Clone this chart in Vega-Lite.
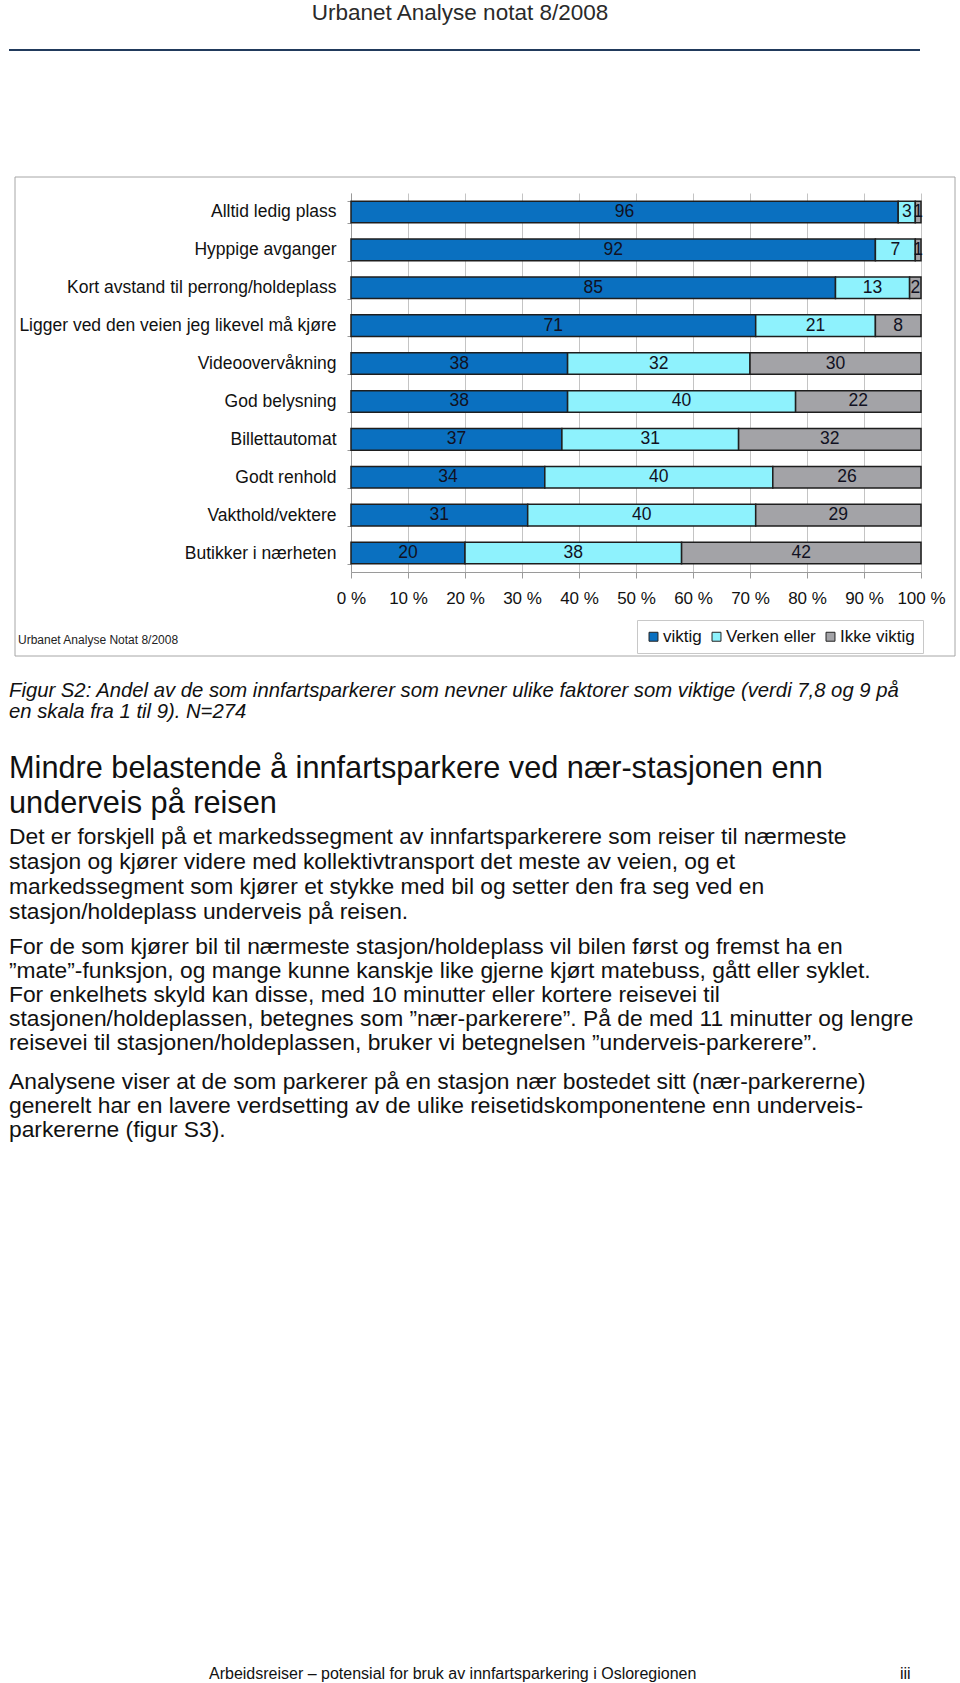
{
  "$schema": "https://vega.github.io/schema/vega-lite/v6.json",
  "padding": {"left": 9, "top": 1, "right": 0, "bottom": 0},
  "background": "white",
  "spacing": 0,
  "resolve": {"scale": {"color": "independent"}, "legend": {"color": "independent"}},
  "config": {
    "view": {"stroke": null},
    "font": "Liberation Sans",
    "title": {"fontWeight": "normal", "color": "#111111", "font": "Liberation Sans", "subtitleFont": "Liberation Sans", "subtitleColor": "#111111"}
  },
  "vconcat": [
    {
      "width": 570,
      "height": 2,
      "title": {"text": "Urbanet Analyse notat 8/2008", "orient": "top", "anchor": "middle", "frame": "group", "fontSize": 22.5, "color": "#2a2a2a", "offset": 25, "dx": -176},
      "data": {"values": [{"part": "header rule"}]},
      "mark": {"type": "rect", "color": "#213a5c"},
      "encoding": {
        "x": {"datum": 0, "type": "quantitative", "scale": {"domain": [0, 1], "range": [-342, 569]}, "axis": null},
        "x2": {"datum": 1}
      }
    },
    {
      "width": 1,
      "height": 125,
      "data": {"values": []},
      "mark": "point"
    },
    {
      "width": 570,
      "height": 379,
      "title": {"text": "Urbanet Analyse Notat 8/2008", "orient": "bottom", "anchor": "start", "frame": "group", "offset": -21.5, "fontSize": 12, "dx": -333, "color": "#222222"},
      "data": {
        "values": [
          {"factor": "Alltid ledig plass", "cat": "viktig", "value": 96},
          {"factor": "Alltid ledig plass", "cat": "Verken eller", "value": 3},
          {"factor": "Alltid ledig plass", "cat": "Ikke viktig", "value": 1},
          {"factor": "Hyppige avganger", "cat": "viktig", "value": 92},
          {"factor": "Hyppige avganger", "cat": "Verken eller", "value": 7},
          {"factor": "Hyppige avganger", "cat": "Ikke viktig", "value": 1},
          {"factor": "Kort avstand til perrong/holdeplass", "cat": "viktig", "value": 85},
          {"factor": "Kort avstand til perrong/holdeplass", "cat": "Verken eller", "value": 13},
          {"factor": "Kort avstand til perrong/holdeplass", "cat": "Ikke viktig", "value": 2},
          {"factor": "Ligger ved den veien jeg likevel må kjøre", "cat": "viktig", "value": 71},
          {"factor": "Ligger ved den veien jeg likevel må kjøre", "cat": "Verken eller", "value": 21},
          {"factor": "Ligger ved den veien jeg likevel må kjøre", "cat": "Ikke viktig", "value": 8},
          {"factor": "Videoovervåkning", "cat": "viktig", "value": 38},
          {"factor": "Videoovervåkning", "cat": "Verken eller", "value": 32},
          {"factor": "Videoovervåkning", "cat": "Ikke viktig", "value": 30},
          {"factor": "God belysning", "cat": "viktig", "value": 38},
          {"factor": "God belysning", "cat": "Verken eller", "value": 40},
          {"factor": "God belysning", "cat": "Ikke viktig", "value": 22},
          {"factor": "Billettautomat", "cat": "viktig", "value": 37},
          {"factor": "Billettautomat", "cat": "Verken eller", "value": 31},
          {"factor": "Billettautomat", "cat": "Ikke viktig", "value": 32},
          {"factor": "Godt renhold", "cat": "viktig", "value": 34},
          {"factor": "Godt renhold", "cat": "Verken eller", "value": 40},
          {"factor": "Godt renhold", "cat": "Ikke viktig", "value": 26},
          {"factor": "Vakthold/vektere", "cat": "viktig", "value": 31},
          {"factor": "Vakthold/vektere", "cat": "Verken eller", "value": 40},
          {"factor": "Vakthold/vektere", "cat": "Ikke viktig", "value": 29},
          {"factor": "Butikker i nærheten", "cat": "viktig", "value": 20},
          {"factor": "Butikker i nærheten", "cat": "Verken eller", "value": 38},
          {"factor": "Butikker i nærheten", "cat": "Ikke viktig", "value": 42}
        ]
      },
      "resolve": {"scale": {"x": "independent", "y": "independent"}},
      "layer": [
        {
          "data": {"values": [{"part": "chart frame"}]},
          "mark": {"type": "rect", "fillOpacity": 0, "stroke": "#a6a6a6", "strokeWidth": 1},
          "encoding": {
            "x": {"datum": 0, "type": "quantitative", "scale": {"domain": [0, 1], "range": [-336, 604]}, "axis": null},
            "x2": {"datum": 1},
            "y": {"datum": 0, "type": "quantitative", "scale": {"domain": [0, 1], "range": [-16, 463]}, "axis": null},
            "y2": {"datum": 1}
          }
        },
        {
          "mark": {"type": "bar", "stroke": "#1e1e1e", "strokeWidth": 1.5},
          "encoding": {
            "y": {
              "field": "factor", "type": "nominal",
              "sort": ["Alltid ledig plass", "Hyppige avganger", "Kort avstand til perrong/holdeplass", "Ligger ved den veien jeg likevel må kjøre", "Videoovervåkning", "God belysning", "Billettautomat", "Godt renhold", "Vakthold/vektere", "Butikker i nærheten"],
              "scale": {"paddingInner": 0.43, "paddingOuter": 0.215},
              "axis": {
                "title": null, "orient": "left",
                "labelFontSize": 17.5, "labelFont": "Liberation Sans", "labelColor": "#111111",
                "labelLimit": 400, "labelPadding": 11, "tickSize": 4,
                "tickColor": "#9a9a9a", "domainColor": "#9a9a9a", "tickBand": "extent", "grid": false
              }
            },
            "x": {
              "field": "value", "type": "quantitative", "stack": "zero",
              "scale": {"domain": [0, 100], "nice": false},
              "axis": {
                "title": null, "orient": "bottom",
                "values": [0, 10, 20, 30, 40, 50, 60, 70, 80, 90, 100],
                "labelExpr": "datum.value + ' %'",
                "grid": true, "gridColor": "#c4c4c4", "gridWidth": 1,
                "domain": true, "domainColor": "#9a9a9a",
                "ticks": true, "tickColor": "#9a9a9a", "tickSize": 6,
                "labelFontSize": 17, "labelFont": "Liberation Sans", "labelColor": "#111111",
                "labelPadding": 12, "labelFlush": false, "labelOverlap": false
              }
            },
            "color": {
              "field": "cat", "type": "nominal",
              "scale": {"domain": ["viktig", "Verken eller", "Ikke viktig"], "range": ["#0a70c0", "#8ef2fd", "#a3a3a7"]},
              "legend": {
                "title": null, "orient": "none", "legendX": 286, "legendY": 427,
                "direction": "horizontal", "symbolType": "square", "symbolSize": 80,
                "symbolStrokeColor": "#222222", "symbolStrokeWidth": 1, "symbolOpacity": 1,
                "labelFontSize": 17, "labelFont": "Liberation Sans", "labelColor": "#111111",
                "strokeColor": "#c8c8c8", "padding": 8, "fillColor": "white",
                "columnPadding": 6, "labelOffset": 1
              }
            },
            "order": {"field": "cat", "sort": "descending"}
          }
        },
        {
          "mark": {"type": "text", "fontSize": 17.5, "color": "#111122", "font": "Liberation Sans"},
          "encoding": {
            "y": {
              "field": "factor", "type": "nominal",
              "sort": ["Alltid ledig plass", "Hyppige avganger", "Kort avstand til perrong/holdeplass", "Ligger ved den veien jeg likevel må kjøre", "Videoovervåkning", "God belysning", "Billettautomat", "Godt renhold", "Vakthold/vektere", "Butikker i nærheten"],
              "scale": {"paddingInner": 0.43, "paddingOuter": 0.215},
              "axis": null
            },
            "x": {"field": "value", "type": "quantitative", "stack": "zero", "bandPosition": 0.5, "scale": {"domain": [0, 100], "nice": false}, "axis": null},
            "text": {"field": "value", "type": "quantitative"},
            "detail": {"field": "cat"},
            "order": {"field": "cat", "sort": "descending"}
          }
        }
      ]
    },
    {
      "width": 570,
      "height": 1,
      "data": {"values": []},
      "mark": "point",
      "title": {
        "text": ["Figur S2: Andel av de som innfartsparkerer som nevner ulike faktorer som viktige (verdi 7,8 og 9 på", "en skala fra 1 til 9). N=274"],
        "orient": "bottom", "anchor": "start", "frame": "group", "offset": 23, "dx": -342,
        "fontSize": 20.3, "fontStyle": "italic", "lineHeight": 20.5
      }
    },
    {
      "width": 570,
      "height": 1,
      "data": {"values": []},
      "mark": "point",
      "title": {
        "text": ["Mindre belastende å innfartsparkere ved nær-stasjonen enn", "underveis på reisen"],
        "orient": "bottom", "anchor": "start", "frame": "group", "offset": 31, "dx": -342,
        "fontSize": 30.7, "lineHeight": 34.5,
        "subtitle": ["Det er forskjell på et markedssegment av innfartsparkerere som reiser til nærmeste", "stasjon og kjører videre med kollektivtransport det meste av veien, og et", "markedssegment som kjører et stykke med bil og setter den fra seg ved en", "stasjon/holdeplass underveis på reisen."],
        "subtitleFontSize": 22.8, "subtitleLineHeight": 25, "subtitlePadding": 7
      }
    },
    {
      "width": 570,
      "height": 1,
      "data": {"values": []},
      "mark": "point",
      "title": {
        "text": ["For de som kjører bil til nærmeste stasjon/holdeplass vil bilen først og fremst ha en", "”mate”-funksjon, og mange kunne kanskje like gjerne kjørt matebuss, gått eller syklet.", "For enkelhets skyld kan disse, med 10 minutter eller kortere reisevei til", "stasjonen/holdeplassen, betegnes som ”nær-parkerere”. På de med 11 minutter og lengre", "reisevei til stasjonen/holdeplassen, bruker vi betegnelsen ”underveis-parkerere”."],
        "orient": "bottom", "anchor": "start", "frame": "group", "offset": 11, "dx": -342,
        "fontSize": 22.8, "lineHeight": 24,
        "subtitle": ["Analysene viser at de som parkerer på en stasjon nær bostedet sitt (nær-parkererne)", "generelt har en lavere verdsetting av de ulike reisetidskomponentene enn underveis-", "parkererne (figur S3)."],
        "subtitleFontSize": 22.8, "subtitleLineHeight": 24, "subtitlePadding": 16
      }
    },
    {
      "spacing": 0,
      "hconcat": [
        {
          "width": 544,
          "height": 1,
          "data": {"values": []},
          "mark": "point",
          "title": {"text": "Arbeidsreiser – potensial for bruk av innfartsparkering i Osloregionen", "orient": "bottom", "anchor": "start", "frame": "group", "offset": 523, "dx": -142, "fontSize": 16}
        },
        {
          "width": 25,
          "height": 1,
          "data": {"values": []},
          "mark": "point",
          "title": {"text": "iii", "orient": "bottom", "anchor": "start", "frame": "group", "offset": 523, "dx": 5, "fontSize": 16}
        }
      ]
    }
  ]
}
